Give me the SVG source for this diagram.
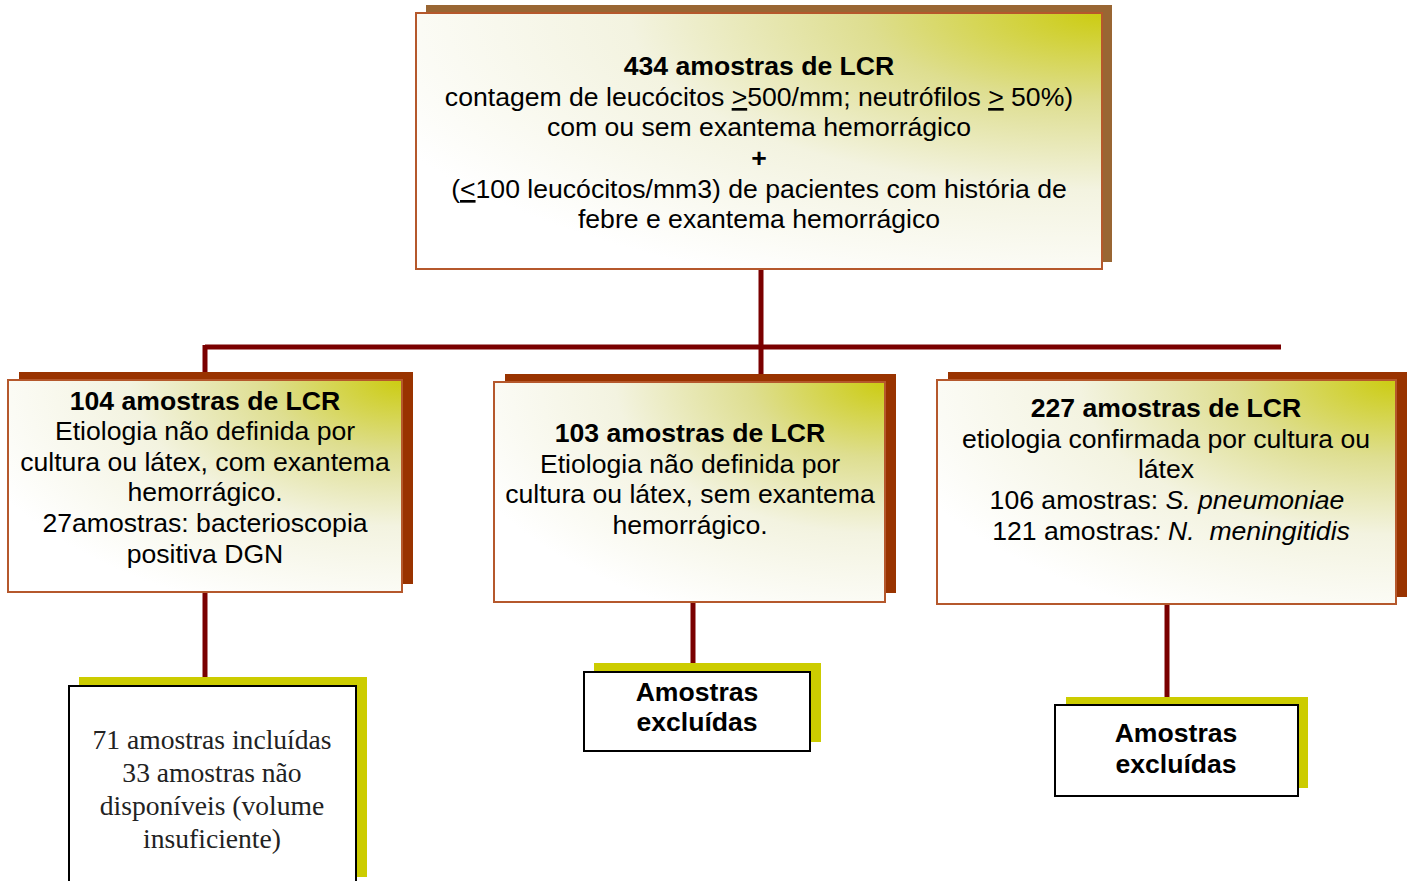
<svg xmlns="http://www.w3.org/2000/svg" width="1410" height="881" viewBox="0 0 1410 881">
<defs>
<radialGradient id="g" cx="1" cy="0" r="1.15" fx="1" fy="0">
<stop offset="0" stop-color="#cccc11"/>
<stop offset="0.3" stop-color="#dede90"/>
<stop offset="0.6" stop-color="#f3f3e0"/>
<stop offset="1" stop-color="#ffffff"/>
</radialGradient>
<style>
.t{font-family:"Liberation Sans",Arial,sans-serif;font-size:26.6px;fill:#000;text-anchor:middle}
.b{font-weight:bold}
.s{font-family:"Liberation Serif","Times New Roman",serif;font-size:27.6px;fill:#222;text-anchor:middle}
.box{fill:url(#g);stroke:#b5582c;stroke-width:2}
.sh1{fill:#996633}
.sh2{fill:#993300}
.sh3{fill:#cccc00}
.wb{fill:#fff;stroke:#000;stroke-width:2}
.c{stroke:#7a0000;stroke-width:5;fill:none}
</style>
</defs>
<g id="connectors">
<line class="c" x1="761" y1="269" x2="761" y2="376"/>
<line class="c" x1="205" y1="347" x2="1281" y2="347"/>
<line class="c" x1="205" y1="345" x2="205" y2="380"/>
<line class="c" x1="205" y1="592" x2="205" y2="686"/>
<line class="c" x1="693" y1="602" x2="693" y2="672"/>
<line class="c" x1="1167" y1="604" x2="1167" y2="705"/>
</g>
<g id="top">
<rect class="sh1" x="426" y="5" width="686" height="257"/>
<rect class="box" x="416" y="13" width="686" height="256"/>
<text class="t b" x="759" y="75">434 amostras de LCR</text>
<text class="t" x="759" y="106">contagem de leucócitos <tspan text-decoration="underline">&gt;</tspan>500/mm; neutrófilos <tspan text-decoration="underline">&gt;</tspan> 50%)</text>
<text class="t" x="759" y="136">com ou sem exantema hemorrágico</text>
<text class="t b" x="759" y="167">+</text>
<text class="t" x="759" y="198">(<tspan text-decoration="underline">&lt;</tspan>100 leucócitos/mm3) de pacientes com história de</text>
<text class="t" x="759" y="228">febre e exantema hemorrágico</text>
</g>
<g id="left">
<rect class="sh2" x="19" y="372" width="394" height="212"/>
<rect class="box" x="8" y="380" width="394" height="212"/>
<text class="t b" x="205" y="410">104 amostras de LCR</text>
<text class="t" x="205" y="440">Etiologia não definida por</text>
<text class="t" x="205" y="471">cultura ou látex, com exantema</text>
<text class="t" x="205" y="501">hemorrágico.</text>
<text class="t" x="205" y="532">27amostras: bacterioscopia</text>
<text class="t" x="205" y="563">positiva DGN</text>
</g>
<g id="middle">
<rect class="sh2" x="505" y="374" width="391" height="219"/>
<rect class="box" x="494" y="382" width="391" height="220"/>
<text class="t b" x="690" y="442">103 amostras de LCR</text>
<text class="t" x="690" y="473">Etiologia não definida por</text>
<text class="t" x="690" y="503">cultura ou látex, sem exantema</text>
<text class="t" x="690" y="534">hemorrágico.</text>
</g>
<g id="right">
<rect class="sh2" x="948" y="372" width="459" height="225"/>
<rect class="box" x="937" y="380" width="459" height="224"/>
<text class="t b" x="1166" y="417">227 amostras de LCR</text>
<text class="t" x="1166" y="448">etiologia confirmada por cultura ou</text>
<text class="t" x="1166" y="478">látex</text>
<text class="t" x="1167" y="509">106 amostras: <tspan font-style="italic">S. pneumoniae</tspan></text>
<text class="t" x="1171" y="540">121 amostras<tspan font-style="italic">: N.&#160; meningitidis</tspan></text>
</g>
<g id="included">
<rect class="sh3" x="79" y="677" width="288" height="200"/>
<rect class="wb" x="69" y="686" width="287" height="200"/>
<text class="s" x="212" y="749">71 amostras incluídas</text>
<text class="s" x="212" y="782">33 amostras não</text>
<text class="s" x="212" y="815">disponíveis (volume</text>
<text class="s" x="212" y="848">insuficiente)</text>
</g>
<g id="excl1">
<rect class="sh3" x="594" y="663" width="227" height="79"/>
<rect class="wb" x="584" y="672" width="226" height="79"/>
<text class="t b" x="697" y="701">Amostras</text>
<text class="t b" x="697" y="731">excluídas</text>
</g>
<g id="excl2">
<rect class="sh3" x="1066" y="697" width="242" height="91"/>
<rect class="wb" x="1055" y="705" width="243" height="91"/>
<text class="t b" x="1176" y="742">Amostras</text>
<text class="t b" x="1176" y="773">excluídas</text>
</g>
</svg>
